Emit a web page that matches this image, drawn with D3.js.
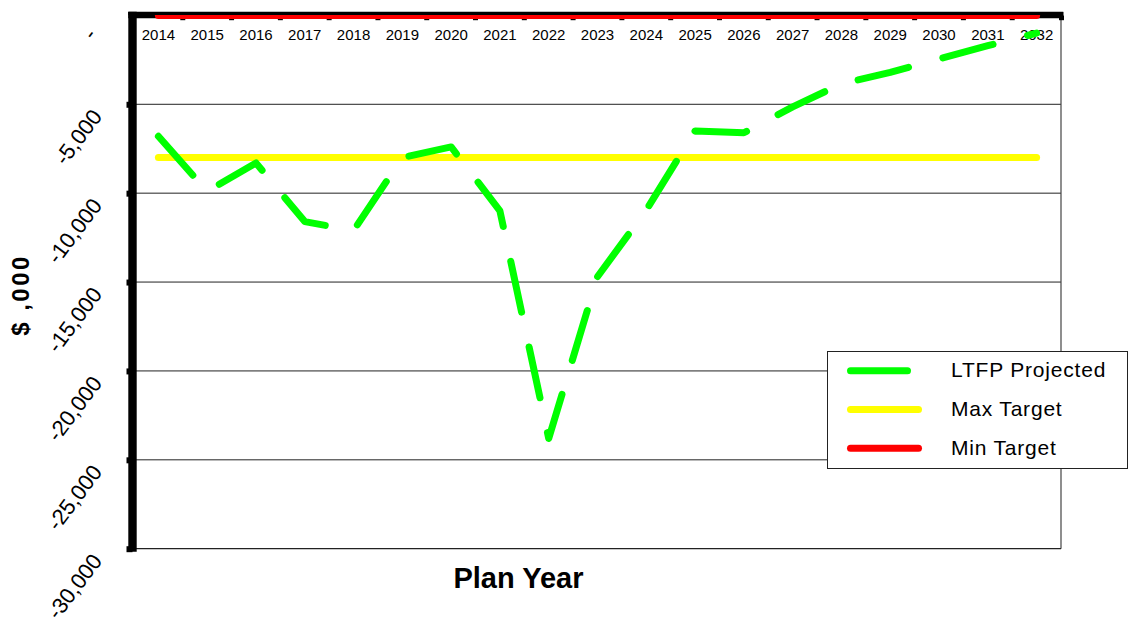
<!DOCTYPE html>
<html>
<head>
<meta charset="utf-8">
<script src="https://cdn.jsdelivr.net/npm/d3@7"></script>
<style>
  html, body { margin: 0; padding: 0; background: #fff; }
  svg { display: block; font-family: "Liberation Sans", Arial, sans-serif; }
</style>
</head>
<body>
<svg id="chart" width="1128" height="622"></svg>
<script>
// Plan years and long-term financial plan figures ($ ,000)
const years = ["2014", "2015", "2016", "2017", "2018", "2019", "2020", "2021", "2022", "2023",
               "2024", "2025", "2026", "2027", "2028", "2029", "2030", "2031", "2032"];
const ltfpProjected = [-6800, -9900, -8300, -11600, -12100, -8000, -7400, -11000, -23800, -14700,
                       -10950, -6500, -6600, -5150, -3850, -3200, -2450, -1700, -1000];
const maxTarget = [-8000, -8000, -8000, -8000, -8000, -8000, -8000, -8000, -8000, -8000,
                   -8000, -8000, -8000, -8000, -8000, -8000, -8000, -8000, -8000];
const minTarget = [0, 0, 0, 0, 0, 0, 0, 0, 0, 0, 0, 0, 0, 0, 0, 0, 0, 0, 0];
const yTickValues = [0, -5000, -10000, -15000, -20000, -25000, -30000];
const seriesNames = ["LTFP Projected", "Max Target", "Min Target"];
const seriesColors = ["#00ff00", "#ffff00", "#ff0000"];

const svg = d3.select("#chart");
const plot = { left: 134, right: 1061, top: 15.4, bottom: 548.7 };
const axisX = 132.5;

const x = d3.scaleBand().domain(years).range([plot.left, plot.right]).padding(0);
const cx = d => x(d) + x.bandwidth() / 2;
const y = d3.scaleLinear().domain([-30000, 0]).range([plot.bottom, plot.top]);

const fmtLocale = d3.formatLocale({ decimal: ".", thousands: ",", grouping: [3], currency: ["$", ""], minus: "-" });
const fmt = fmtLocale.format(",");

// horizontal gridlines
svg.append("g")
  .selectAll("line")
  .data(yTickValues.filter(v => v !== 0 && v !== -30000))
  .join("line")
  .attr("x1", plot.left).attr("x2", plot.right)
  .attr("y1", d => y(d)).attr("y2", d => y(d))
  .attr("stroke", "#222").attr("stroke-width", 1);

// plot frame (right and bottom)
svg.append("line")
  .attr("x1", plot.right).attr("x2", plot.right)
  .attr("y1", y(0)).attr("y2", y(-30000))
  .attr("stroke", "#444").attr("stroke-width", 1.2);
svg.append("line")
  .attr("x1", plot.left).attr("x2", plot.right)
  .attr("y1", y(-30000)).attr("y2", y(-30000))
  .attr("stroke", "#222").attr("stroke-width", 1.2);

// category labels along the zero line
const xAxis = svg.append("g")
  .attr("transform", `translate(0,${y(0)})`)
  .call(d3.axisBottom(x).tickSize(0));
xAxis.select(".domain").remove();
xAxis.selectAll("text")
  .attr("y", 40 - y(0)).attr("dy", 0)
  .attr("font-size", 15).attr("fill", "#000")
  .style("font-family", '"Liberation Sans", Arial, sans-serif');

// series lines
const line = d3.line().x((d, i) => cx(years[i])).y(d => y(d));

svg.append("path")
  .datum(maxTarget)
  .attr("d", line)
  .attr("fill", "none").attr("stroke", seriesColors[1])
  .attr("stroke-width", 7).attr("stroke-linecap", "round").attr("stroke-linejoin", "round");

svg.append("path")
  .datum(ltfpProjected)
  .attr("d", line)
  .attr("fill", "none").attr("stroke", seriesColors[0])
  .attr("stroke-width", 7).attr("stroke-linecap", "round").attr("stroke-linejoin", "round")
  .attr("stroke-dasharray", "52,35.6");

// category boundary ticks under the top axis
const bounds = years.slice(1).map(d => x(d)).concat([plot.right + 0.5]);
svg.append("g")
  .selectAll("line")
  .data(bounds)
  .join("line")
  .attr("x1", d => d).attr("x2", d => d)
  .attr("y1", y(0)).attr("y2", y(0) + 4.8)
  .attr("stroke", "#000").attr("stroke-width", 5);

// top axis line
svg.append("line")
  .attr("x1", 128.3).attr("x2", 1063.3)
  .attr("y1", 15.1).attr("y2", 15.1)
  .attr("stroke", "#000").attr("stroke-width", 6.4);

// min target series along zero
svg.append("path")
  .datum(minTarget)
  .attr("d", line)
  .attr("fill", "none").attr("stroke", seriesColors[2])
  .attr("stroke-width", 7).attr("stroke-linecap", "round").attr("stroke-linejoin", "round");

svg.append("line")
  .attr("x1", 128.3).attr("x2", 1063.3)
  .attr("y1", 13.4).attr("y2", 13.4)
  .attr("stroke", "#000").attr("stroke-width", 3.4);

// left value axis
svg.append("line")
  .attr("x1", axisX).attr("x2", axisX)
  .attr("y1", 11.7).attr("y2", plot.bottom + 3)
  .attr("stroke", "#000").attr("stroke-width", 8.4);

const yAxis = svg.append("g")
  .attr("transform", `translate(${axisX},0)`)
  .call(d3.axisLeft(y).tickValues(yTickValues).tickSize(0).tickFormat(d => d === 0 ? "-" : fmt(d)));
yAxis.select(".domain").remove();
yAxis.selectAll(".tick")
  .filter(d => d !== 0)
  .append("line")
  .attr("x1", -6).attr("x2", 0)
  .attr("stroke", "#000").attr("stroke-width", 6);
yAxis.selectAll("text")
  .attr("x", 0).attr("dy", 0)
  .attr("dx", d => d === 0 ? -9 : 0)
  .attr("text-anchor", "end")
  .attr("transform", `translate(${103 - axisX},12) rotate(-53)`)
  .attr("font-size", 22).attr("fill", "#000")
  .style("font-family", '"Liberation Sans", Arial, sans-serif');

// axis titles
svg.append("text")
  .attr("transform", "translate(29,295) rotate(-90)")
  .attr("text-anchor", "middle")
  .attr("font-size", 24).attr("font-weight", "bold")
  .attr("letter-spacing", 2.5)
  .text("$ ,000");

svg.append("text")
  .attr("x", 518.5).attr("y", 588)
  .attr("text-anchor", "middle")
  .attr("font-size", 29).attr("font-weight", "bold")
  .text("Plan Year");

// legend
const legend = svg.append("g");
legend.append("rect")
  .attr("x", 827.5).attr("y", 351.5).attr("width", 300).attr("height", 117)
  .attr("fill", "#fff").attr("stroke", "#222").attr("stroke-width", 1);
const rows = legend.selectAll("g.row")
  .data(seriesNames)
  .join("g")
  .attr("class", "row")
  .attr("transform", (d, i) => `translate(0,${370.7 + i * 38.8})`);
rows.append("line")
  .attr("x1", 850.5).attr("x2", 918.5)
  .attr("stroke", (d, i) => seriesColors[i])
  .attr("stroke-width", 7).attr("stroke-linecap", "round")
  .attr("stroke-dasharray", (d, i) => i === 0 ? "57,35" : null);
rows.append("text")
  .attr("x", 951).attr("y", 6.6)
  .attr("font-size", 21).attr("letter-spacing", 0.8)
  .text(d => d);
</script>
</body>
</html>
